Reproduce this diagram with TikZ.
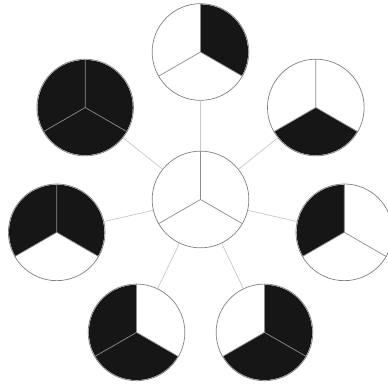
\documentclass[tikz,border=0pt]{standalone}
\usepackage{color}
\usepackage{tikz}
\definecolor{ink}{HTML}{161616}
\newcommand{\wedgefill}[3]{\fill[ink] (#1.center) -- ++(#2:47.6) arc[start angle=#2, end angle=#3, radius=47.6] -- cycle;}

\begin{document}
\begin{tikzpicture}[x=0.03cm, y=0.03cm,
    set/.style={circle, draw=black!50, line width=0.6pt, inner sep=0pt, outer sep=0pt, minimum size=2.9cm},
    divider/.style={draw=black!45, line width=0.6pt},
    link/.style={draw=black!22, line width=0.6pt}]
    \useasboundingbox (0,0) rectangle (388,384);
    % Empty set in the middle
    \node[set] (s0) at (200.5,184.5) {};
    \draw[divider] (s0.center) -- (s0.90) (s0.center) -- (s0.210) (s0.center) -- (s0.330);
    % Seven subsets round it
    \foreach \i/\a/\s/\e in {1/90/90/-30, 2/38.57/-30/-150, 3/-12.86/90/210,
                             4/-64.29/90/-150, 5/-115.71/90/330, 6/192.86/-30/210,
                             7/141.43/90/-270} {
        \node[set] (s\i) at ([shift={(\a:147.5)}]s0.center) {};
        \wedgefill{s\i}{\s}{\e}
        \draw[divider] (s\i.center) -- (s\i.90) (s\i.center) -- (s\i.210) (s\i.center) -- (s\i.330);
        \draw[link] (s0) -- (s\i);
    }
\end{tikzpicture}
\end{document}
